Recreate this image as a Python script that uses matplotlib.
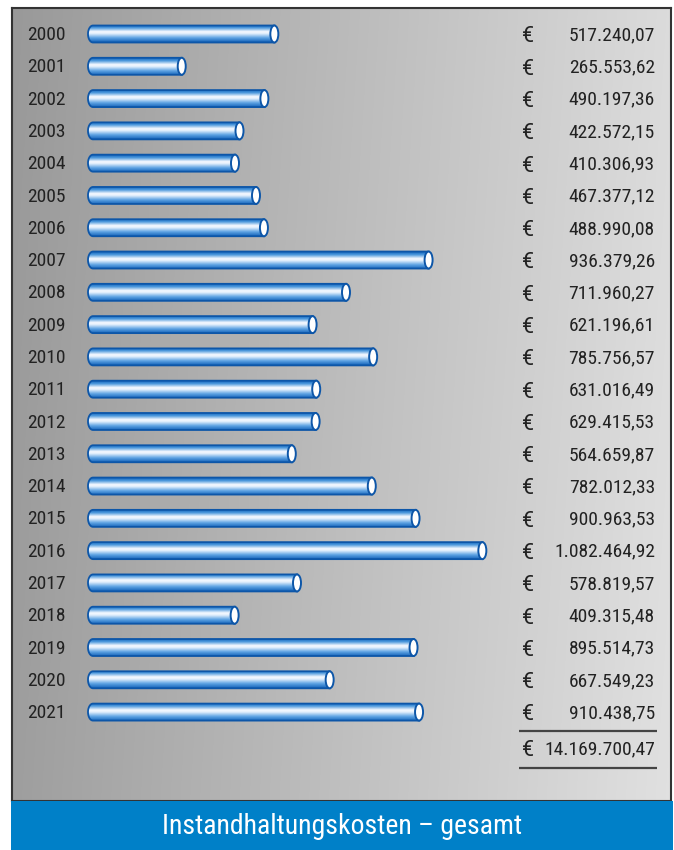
import numpy as np
import matplotlib
matplotlib.use("Agg")
import matplotlib.pyplot as plt
from matplotlib.colors import LinearSegmentedColormap
from matplotlib.patches import Ellipse, PathPatch
from matplotlib.path import Path
from matplotlib.transforms import blended_transform_factory

years = list(range(2000, 2022))
costs = [517240.07, 265553.62, 490197.36, 422572.15, 410306.93, 467377.12,
         488990.08, 936379.26, 711960.27, 621196.61, 785756.57, 631016.49,
         629415.53, 564659.87, 782012.33, 900963.53, 1082464.92, 578819.57,
         409315.48, 895514.73, 667549.23, 910438.75]
total = 14169700.47
title = "Instandhaltungskosten – gesamt"

plt.rcParams['font.family'] = ['Roboto Condensed', 'Roboto', 'DejaVu Sans']


def euro(v):
    s = f"{v:,.2f}"
    return s.replace(",", "#").replace(".", ",").replace("#", ".")


W, H = 674, 850
fig = plt.figure(figsize=(W / 100, H / 100), dpi=100)
fig.patch.set_facecolor("white")

# grey panel, pixel box 12..671 x 8..801
pl, pr, pt, pb = 12, 671, 8, 801
ax = fig.add_axes([pl / W, (H - pb) / H, (pr - pl) / W, (pb - pt) / H])

px_per_eur = 0.000368          # bar scale
x0_px = 88                     # where zero sits
row0_px, row_px = 34, 32.29    # first row centre, row pitch
xlim = (-(x0_px - pl) / px_per_eur, (pr - x0_px) / px_per_eur)
ylim = ((pb - row0_px) / row_px, (pt - row0_px) / row_px)


def fx(px):
    return (px - pl) / (pr - pl)


# background gradient, dark left -> light right
gx = np.linspace(0, 1, 256)
gy = np.linspace(0, 1, 64)
G = 0.60 + 0.26 * gx[None, :] + 0.02 * gy[:, None]
ax.imshow(np.dstack([G, G, G]), extent=(0, 1, 0, 1), transform=ax.transAxes,
          aspect="auto", zorder=0, interpolation="bilinear")

# cylinder shading (top -> bottom)
tube = LinearSegmentedColormap.from_list("tube", [
    (0.00, "#1c6cc2"), (0.15, "#4a97dc"), (0.38, "#f6f9ff"),
    (0.50, "#e4f0fc"), (0.75, "#5fa4e4"), (1.00, "#1765bb")])
shade = np.linspace(0, 1, 64)[:, None]

edge = "#0d56a8"
bar_h = 17 / row_px
eur_per_px = 1 / px_per_eur
cap_w = 8 * eur_per_px
rx = 5 * eur_per_px

for i, v in enumerate(costs):
    yc = i
    top, bot = yc - bar_h / 2, yc + bar_h / 2
    xr = v - cap_w / 2
    t = np.linspace(np.pi / 2, 3 * np.pi / 2, 30)
    left = np.column_stack([rx + rx * np.cos(t), yc - (bar_h / 2) * np.sin(t)])
    verts = np.vstack([[xr, top], [rx, top], left, [rx, bot], [xr, bot], [xr, top]])
    body = Path(verts, closed=True)
    patch = PathPatch(body, facecolor="none", edgecolor=edge, lw=1.3, zorder=3)
    ax.add_patch(patch)
    im = ax.imshow(shade, cmap=tube, extent=(0, xr, bot, top), aspect="auto",
                   origin="upper", zorder=2, interpolation="bilinear")
    im.set_clip_path(patch)
    ax.add_patch(Ellipse((xr, yc), cap_w, bar_h, facecolor="white",
                         edgecolor=edge, lw=1.4, zorder=4))

trans = blended_transform_factory(ax.transAxes, ax.transData)
txt = "#222222"
fs = 14
base = 0.19   # baseline sits this far below the row centre


def eur_sign(y):
    ax.text(fx(528), y + 0.07, "€", transform=trans, ha="center",
            va="baseline", fontsize=15.5, color=txt,
            family=["Roboto", "DejaVu Sans"])


for i, (yr, v) in enumerate(zip(years, costs)):
    ax.text(fx(27), i + base, str(yr), transform=trans, ha="left",
            va="baseline", fontsize=fs, color=txt)
    eur_sign(i + base)
    ax.text(fx(655), i + base, euro(v), transform=trans, ha="right",
            va="baseline", fontsize=fs, color=txt)

# total with rules above and below
n = len(costs)
for yy in (n - 0.41, n + 0.73):
    ax.plot([fx(519), fx(657)], [yy, yy], transform=trans, color="#444444",
            lw=1.6, solid_capstyle="butt", zorder=5)
eur_sign(n + 0.11 + base)
ax.text(fx(655), n + 0.11 + base, euro(total), transform=trans, ha="right",
        va="baseline", fontsize=fs, color=txt)

ax.set_xlim(*xlim)
ax.set_ylim(*ylim)
ax.set_xticks([])
ax.set_yticks([])
for s in ax.spines.values():
    s.set_color("#333333")
    s.set_linewidth(1.5)

# blue caption strip
band = fig.add_axes([11 / W, 0, 662 / W, 49 / H])
band.set_facecolor("#0080c8")
band.set_xticks([])
band.set_yticks([])
for s in band.spines.values():
    s.set_visible(False)
band.text(0.5, 0.47, title, ha="center", va="center", color="white",
          fontsize=20, transform=band.transAxes)

fig.savefig("out.png", dpi=100)
